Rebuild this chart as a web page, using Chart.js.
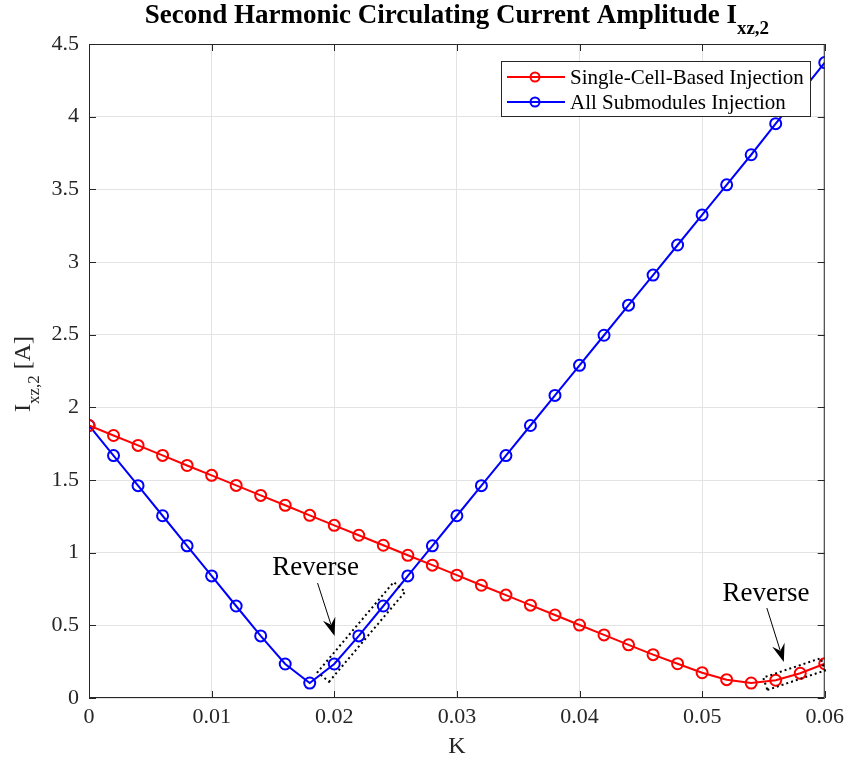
<!DOCTYPE html>
<html>
<head>
<meta charset="utf-8">
<script src="https://cdn.jsdelivr.net/npm/chart.js@4/dist/chart.umd.min.js"></script>
<style>
  html, body { margin: 0; background: #fff; }
</style>
</head>
<body>
<canvas id="chart" width="850" height="767"></canvas>
<script>
// K sweep and circulating current amplitudes
var kValues = [0, 0.002, 0.004, 0.006, 0.008, 0.01, 0.012, 0.014, 0.016, 0.018,
               0.02, 0.022, 0.024, 0.026, 0.028, 0.03, 0.032, 0.034, 0.036, 0.038,
               0.04, 0.042, 0.044, 0.046, 0.048, 0.05, 0.052, 0.054, 0.056, 0.058, 0.06];
var singleCell = [1.875, 1.806, 1.738, 1.669, 1.600, 1.532, 1.463, 1.394, 1.326, 1.257,
                  1.188, 1.120, 1.051, 0.982, 0.914, 0.845, 0.776, 0.708, 0.639, 0.571,
                  0.502, 0.434, 0.366, 0.298, 0.236, 0.174, 0.126, 0.103, 0.122, 0.170, 0.236];
var allSubmodules = [1.875, 1.668, 1.461, 1.254, 1.047, 0.840, 0.633, 0.427, 0.234, 0.103,
                     0.234, 0.427, 0.633, 0.840, 1.047, 1.254, 1.461, 1.668, 1.875, 2.082,
                     2.289, 2.496, 2.703, 2.910, 3.117, 3.324, 3.531, 3.738, 3.952, 4.162, 4.372];
var seriesNames = ['Single-Cell-Based Injection', 'All Submodules Injection'];
var seriesColors = ['#ff0000', '#0000ff'];

var FONT = '"Liberation Serif", "DejaVu Serif", serif';
var INK = '#262626';

function toPoints(ys) {
  return kValues.map(function (k, i) { return { x: k, y: ys[i] }; });
}

function makeSet(label, ys, color) {
  return {
    label: label,
    data: toPoints(ys),
    borderColor: color,
    backgroundColor: 'rgba(0,0,0,0)',
    borderWidth: 2,
    pointRadius: 5.5,
    pointBorderWidth: 2,
    pointBorderColor: color,
    pointBackgroundColor: 'rgba(0,0,0,0)',
    tension: 0
  };
}

// pixel position of a point of a dataset
function px(chart, ds, i) {
  var p = chart.data.datasets[ds].data[i];
  return { x: chart.scales.x.getPixelForValue(p.x), y: chart.scales.y.getPixelForValue(p.y) };
}

function dottedBox(ctx, a, b, extA, extB, hw) {
  var dx = b.x - a.x, dy = b.y - a.y;
  var len = Math.sqrt(dx * dx + dy * dy);
  var ux = dx / len, uy = dy / len;
  var nx = -uy, ny = ux;
  var s = { x: a.x - ux * extA, y: a.y - uy * extA };
  var e = { x: b.x + ux * extB, y: b.y + uy * extB };
  ctx.save();
  ctx.strokeStyle = '#000';
  ctx.lineWidth = 2;
  ctx.setLineDash([2, 3]);
  ctx.beginPath();
  ctx.moveTo(s.x + nx * hw, s.y + ny * hw);
  ctx.lineTo(e.x + nx * hw, e.y + ny * hw);
  ctx.lineTo(e.x - nx * hw, e.y - ny * hw);
  ctx.lineTo(s.x - nx * hw, s.y - ny * hw);
  ctx.closePath();
  ctx.stroke();
  ctx.restore();
}

function arrow(ctx, x1, y1, x2, y2) {
  var ang = Math.atan2(y2 - y1, x2 - x1);
  var c = Math.cos(ang), s = Math.sin(ang);
  var hl = 18, hw = 6.5;
  ctx.save();
  ctx.strokeStyle = '#000';
  ctx.fillStyle = '#000';
  ctx.lineWidth = 1;
  ctx.beginPath();
  ctx.moveTo(x1, y1);
  ctx.lineTo(x2 - c * hl * 0.7, y2 - s * hl * 0.7);
  ctx.stroke();
  ctx.beginPath();
  ctx.moveTo(x2, y2);
  ctx.lineTo(x2 - c * hl - s * hw, y2 - s * hl + c * hw);
  ctx.lineTo(x2 - c * hl * 0.65, y2 - s * hl * 0.65);
  ctx.lineTo(x2 - c * hl + s * hw, y2 - s * hl - c * hw);
  ctx.closePath();
  ctx.fill();
  ctx.restore();
}

// text followed by a lowered subscript, centred on cx
function subText(ctx, cx, cy, main, sub, tail, big, small, drop, weight) {
  ctx.font = weight + ' ' + big + 'px ' + FONT;
  var w1 = ctx.measureText(main).width;
  var w3 = tail ? ctx.measureText(tail).width : 0;
  ctx.font = weight + ' ' + small + 'px ' + FONT;
  var w2 = ctx.measureText(sub).width;
  var x = cx - (w1 + w2 + w3) / 2;
  ctx.textAlign = 'left';
  ctx.textBaseline = 'alphabetic';
  ctx.font = weight + ' ' + big + 'px ' + FONT;
  ctx.fillText(main, x, cy);
  ctx.font = weight + ' ' + small + 'px ' + FONT;
  ctx.fillText(sub, x + w1, cy + drop);
  if (tail) {
    ctx.font = weight + ' ' + big + 'px ' + FONT;
    ctx.fillText(tail, x + w1 + w2, cy);
  }
}

var decorations = {
  id: 'decorations',
  afterDatasetsDraw: function (chart) {
    var ctx = chart.ctx;
    var a = chart.chartArea;
    var xs = chart.scales.x, ys = chart.scales.y;
    ctx.save();

    // axes box with inward ticks
    ctx.strokeStyle = INK;
    ctx.lineWidth = 1;
    ctx.beginPath();
    ctx.rect(a.left + 0.5, a.top + 0.5, a.right - a.left - 1, a.bottom - a.top - 1);
    xs.ticks.forEach(function (t) {
      var x = Math.round(xs.getPixelForValue(t.value)) + 0.5;
      ctx.moveTo(x, a.bottom); ctx.lineTo(x, a.bottom - 7);
      ctx.moveTo(x, a.top); ctx.lineTo(x, a.top + 7);
    });
    ys.ticks.forEach(function (t) {
      var y = Math.round(ys.getPixelForValue(t.value)) + 0.5;
      ctx.moveTo(a.left, y); ctx.lineTo(a.left + 7, y);
      ctx.moveTo(a.right, y); ctx.lineTo(a.right - 7, y);
    });
    ctx.stroke();

    // title
    ctx.fillStyle = '#000';
    subText(ctx, (a.left + a.right) / 2, 23, 'Second Harmonic Circulating Current Amplitude I', 'xz,2', '', 27, 19, 11, 'bold');

    // axis titles
    ctx.fillStyle = INK;
    ctx.font = '24px ' + FONT;
    ctx.textAlign = 'center';
    ctx.textBaseline = 'alphabetic';
    ctx.fillText('K', (a.left + a.right) / 2, 753);
    ctx.save();
    ctx.translate(30, 374);
    ctx.rotate(-Math.PI / 2);
    subText(ctx, 0, 0, 'I', 'xz,2', ' [A]', 24, 17, 9, 'normal');
    ctx.restore();

    // marked regions
    dottedBox(ctx, px(chart, 1, 10), px(chart, 1, 12), 17, 25, 7.5);
    dottedBox(ctx, px(chart, 0, 28), px(chart, 0, 30), 11, -2, 6.5);

    ctx.fillStyle = '#000';
    ctx.font = '27px ' + FONT;
    ctx.textAlign = 'center';
    ctx.textBaseline = 'alphabetic';
    ctx.fillText('Reverse', xs.getPixelForValue(0.01848), ys.getPixelForValue(0.847));
    ctx.fillText('Reverse', xs.getPixelForValue(0.0552), ys.getPixelForValue(0.668));
    arrow(ctx, xs.getPixelForValue(0.01864), ys.getPixelForValue(0.791),
               xs.getPixelForValue(0.02003), ys.getPixelForValue(0.427));
    arrow(ctx, xs.getPixelForValue(0.05528), ys.getPixelForValue(0.619),
               xs.getPixelForValue(0.05666), ys.getPixelForValue(0.248));

    // legend
    var lx = 501, ly = 61, lw = 309, lh = 55;
    ctx.fillStyle = '#fff';
    ctx.fillRect(lx, ly, lw, lh);
    ctx.strokeStyle = INK;
    ctx.lineWidth = 1;
    ctx.strokeRect(lx + 0.5, ly + 0.5, lw, lh);
    ctx.font = '21px ' + FONT;
    ctx.textAlign = 'left';
    ctx.textBaseline = 'middle';
    seriesNames.forEach(function (name, i) {
      var y = ly + 16 + i * 25;
      ctx.strokeStyle = seriesColors[i];
      ctx.lineWidth = 2;
      ctx.beginPath();
      ctx.moveTo(lx + 6, y); ctx.lineTo(lx + 64, y);
      ctx.stroke();
      ctx.beginPath();
      ctx.arc(lx + 34, y, 4.5, 0, Math.PI * 2);
      ctx.stroke();
      ctx.fillStyle = '#000';
      ctx.fillText(name, lx + 69, y + 1);
    });

    ctx.restore();
  }
};

new Chart(document.getElementById('chart'), {
  type: 'line',
  data: {
    datasets: [
      makeSet(seriesNames[0], singleCell, seriesColors[0]),
      makeSet(seriesNames[1], allSubmodules, seriesColors[1])
    ]
  },
  options: {
    responsive: false,
    animation: false,
    devicePixelRatio: 1,
    layout: { padding: { top: 44, right: 24, left: 0, bottom: 0 } },
    plugins: {
      legend: { display: false },
      title: { display: false },
      tooltip: { enabled: false }
    },
    scales: {
      x: {
        type: 'linear',
        min: 0,
        max: 0.06,
        afterFit: function (s) { s.height = 69; },
        grid: { color: '#e3e3e3', drawTicks: false },
        border: { display: false },
        ticks: {
          stepSize: 0.01,
          padding: 6,
          color: INK,
          font: { family: FONT, size: 22 },
          maxRotation: 0,
          callback: function (v) { return String(+v.toFixed(2)); }
        }
      },
      y: {
        min: 0,
        max: 4.5,
        afterFit: function (s) { s.width = 89; },
        grid: { color: '#e3e3e3', drawTicks: false },
        border: { display: false },
        ticks: {
          stepSize: 0.5,
          padding: 10,
          color: INK,
          font: { family: FONT, size: 22 },
          callback: function (v) { return String(+v.toFixed(1)); }
        }
      }
    }
  },
  plugins: [decorations]
});
</script>
</body>
</html>
